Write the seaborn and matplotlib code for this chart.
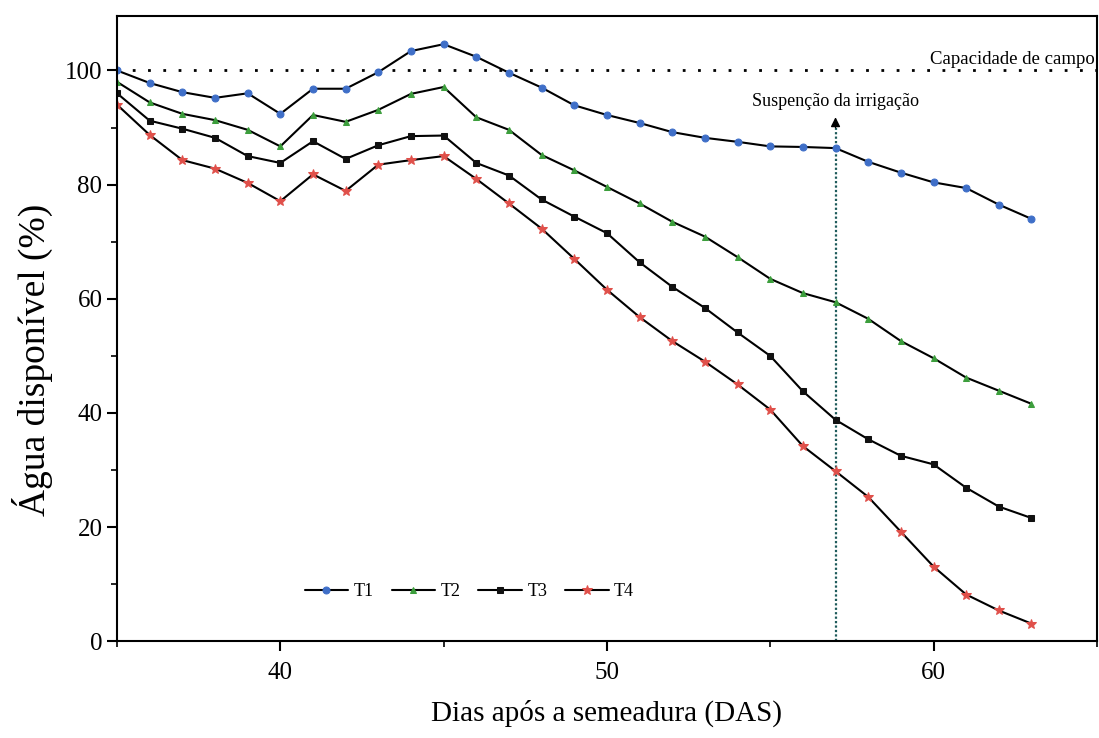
import matplotlib
matplotlib.use("Agg")
import matplotlib.pyplot as plt
import seaborn as sns
import pandas as pd
from matplotlib.ticker import MultipleLocator

days = list(range(35, 64))
t1 = [100, 97.8, 96.2, 95.2, 96.0, 92.4, 96.8, 96.8, 99.7, 103.4, 104.6, 102.4, 99.6, 97.0, 93.9,
      92.2, 90.8, 89.2, 88.2, 87.5, 86.7, 86.6, 86.4, 84.0, 82.1, 80.4, 79.4, 76.5, 74.0]
t2 = [98, 94.4, 92.4, 91.3, 89.6, 86.7, 92.2, 91.0, 93.1, 95.9, 97.1, 91.8, 89.6, 85.2, 82.5,
      79.6, 76.7, 73.5, 70.9, 67.3, 63.5, 61.0, 59.4, 56.5, 52.6, 49.6, 46.2, 43.9, 41.6]
t3 = [96, 91.2, 89.8, 88.2, 85.0, 83.8, 87.6, 84.5, 86.9, 88.5, 88.6, 83.8, 81.6, 77.4, 74.4,
      71.5, 66.4, 62.1, 58.4, 54.1, 50.0, 43.8, 38.8, 35.4, 32.5, 31.0, 26.9, 23.6, 21.6]
t4 = [94, 88.7, 84.3, 82.8, 80.3, 77.1, 81.8, 78.9, 83.5, 84.3, 85.0, 81.0, 76.7, 72.3, 67.0,
      61.6, 56.8, 52.6, 49.0, 45.0, 40.6, 34.2, 29.8, 25.3, 19.2, 13.1, 8.2, 5.4, 3.1]
series_names = ["T1", "T2", "T3", "T4"]
field_capacity = 100
suspension_day = 57

sns.set_theme(style="ticks")
plt.rcParams["font.family"] = ["Liberation Serif", "DejaVu Serif"]
plt.rcParams["text.color"] = "black"
plt.rcParams["axes.labelcolor"] = "black"

fig = plt.figure(figsize=(10.99, 7.38), dpi=100)
ax = fig.add_axes([0.1065, 0.131, 0.8915, 0.847])

styles = {
    "T1": dict(marker="o", c="#3f6fc8", ms=5),
    "T2": dict(marker="^", c="#3c9e3c", ms=5),
    "T3": dict(marker="s", c="#111111", ms=4),
    "T4": dict(marker="*", c="#e0504a", ms=7),
}
for name, vals in zip(series_names, [t1, t2, t3, t4]):
    df = pd.DataFrame({"DAS": days, "AD": vals})
    st = styles[name]
    sns.lineplot(data=df, x="DAS", y="AD", ax=ax, color="black", lw=1.5,
                 marker=st["marker"], markersize=st["ms"],
                 markerfacecolor=st["c"], markeredgecolor=st["c"],
                 label=name)

# field capacity line
ax.axhline(field_capacity, color="black", lw=2, ls=(0, (1, 4.5)), zorder=1)
ax.text(64.95, 100.4, "Capacidade de campo", ha="right", va="bottom", fontsize=13.5, color="black")

# suspension of irrigation
ax.plot([suspension_day, suspension_day], [0, 90], color="#1d5a5a", lw=1.6, ls=(0, (1, 1)), zorder=1)
ax.annotate("", xy=(suspension_day, 92.3), xytext=(suspension_day, 89.5),
            arrowprops=dict(arrowstyle="-|>", color="black", lw=1, mutation_scale=14))
ax.text(suspension_day, 93.1, "Suspenção da irrigação", ha="center", va="bottom", fontsize=13, color="black")

ax.set_xlim(35, 65)
ax.set_ylim(0, 109.5)
ax.xaxis.set_major_locator(MultipleLocator(10))
ax.xaxis.set_minor_locator(MultipleLocator(5))
ax.yaxis.set_major_locator(MultipleLocator(20))
ax.yaxis.set_minor_locator(MultipleLocator(10))
ax.set_xticks([40, 50, 60])
ax.tick_params(axis="both", which="major", direction="out", length=7, width=1.5, labelsize=18, colors="black")
ax.tick_params(axis="x", which="major", pad=8)
ax.tick_params(axis="both", which="minor", direction="out", length=4, width=1.2, colors="black")
for sp in ax.spines.values():
    sp.set_linewidth(1.5)
    sp.set_color("black")

ax.set_xlabel("Dias após a semeadura (DAS)", fontsize=21, labelpad=11, color="black")
ax.set_ylabel("Água disponível (%)", fontsize=27, color="black")
ax.yaxis.set_label_coords(-0.065, 0.45)

leg = ax.legend(loc="lower left", bbox_to_anchor=(0.175, 0.04), ncol=4, frameon=False,
                fontsize=13, handlelength=2.4, handletextpad=0.3, columnspacing=1.0,
                labelcolor="black")

fig.savefig("out.png", dpi=100)
